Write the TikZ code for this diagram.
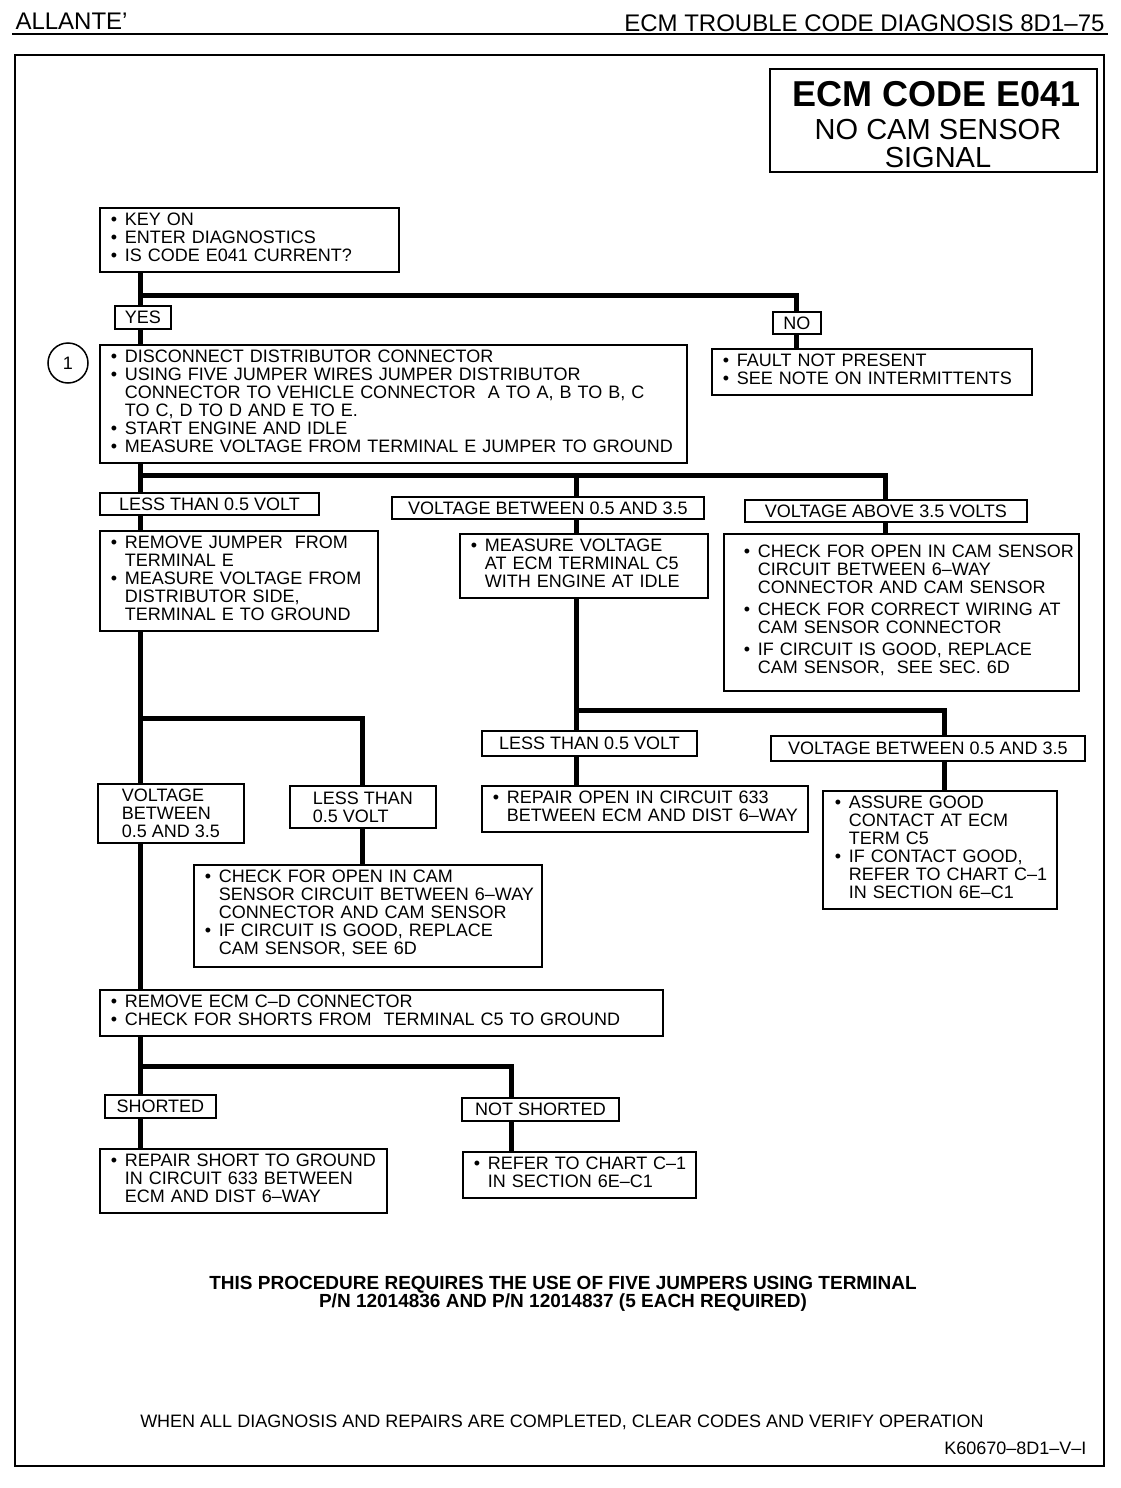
\documentclass[tikz,border=0pt]{standalone}
\usepackage{fontspec}
\setmainfont{Liberation Sans}
\usetikzlibrary{positioning}

\newcommand{\boxfont}{\fontsize{18}{18}\selectfont\hyphenpenalty=10000\exhyphenpenalty=10000}
\newcommand{\bul}{\par\noindent\global\hangindent=14pt\global\hangafter=1\global\rightskip=-24pt plus 1fil\makebox[14pt][l]{\textbullet}}

\tikzset{
  stepbox/.style={draw, line width=1.8pt, anchor=north west, align=left,
    inner xsep=11pt, inner ysep=0pt, font=\boxfont,
    execute at end node={\par\kern10pt}},
  answer/.style={draw, line width=1.8pt, anchor=north west, align=left,
    inner sep=0pt, font=\boxfont},
  flow/.style={line width=5pt},
}

\begin{document}
\begin{tikzpicture}[x=1pt,y=-1pt]
  \useasboundingbox (0,0) rectangle (1120,1488);
  % page header and frame
  \node[anchor=base west, font=\fontsize{24}{24}\selectfont] (make) at (12,30) {ALLANTE'};
  \node[anchor=base east, font=\fontsize{24}{24}\selectfont] (section) at (1108,32) {ECM TROUBLE CODE DIAGNOSIS 8D1--75};
  \draw[line width=2pt] (12,34) -- (1108,34);
  \draw[line width=2pt] (15,55) rectangle (1104,1466);
  % title
  \node[draw, line width=1.8pt, anchor=north west, minimum width=327pt, minimum height=103pt] (titlebox) at (769,68) {};
  \node[anchor=base, font=\fontsize{36}{36}\selectfont\bfseries] (code) at (937,106) {ECM CODE E041};
  \node[anchor=base, font=\fontsize{29}{29}\selectfont] (name1) at (938,139) {NO CAM SENSOR};
  \node[anchor=base, font=\fontsize{29}{29}\selectfont] (name2) at (938,167) {SIGNAL};
  % steps
  \node[stepbox, text width=277pt, minimum height=61pt] (start) at (99,207)
    {\bul KEY ON \bul ENTER DIAGNOSTICS \bul IS CODE E041 CURRENT?};
  \node[answer, minimum width=56pt, minimum height=23pt] (yes) at (114,305) {YES};
  \node[answer, minimum width=48pt, minimum height=22pt] (no) at (772,311) {NO};
  \node[stepbox, text width=298pt, minimum height=41pt] (fault) at (711,348)
    {\bul FAULT NOT PRESENT \bul SEE NOTE ON INTERMITTENTS};
  \node[draw, circle, line width=1.5pt, minimum size=40pt, inner sep=0pt, font=\boxfont] (one) at (68,363) {1};
  \node[stepbox, text width=565pt, minimum height=117pt] (jumper) at (99,344)
    {\bul DISCONNECT DISTRIBUTOR CONNECTOR
     \bul USING FIVE JUMPER WIRES JUMPER DISTRIBUTOR\newline CONNECTOR TO VEHICLE CONNECTOR\ \ A TO A, B TO B, C\newline TO C, D TO D AND E TO E.
     \bul START ENGINE AND IDLE
     \bul MEASURE VOLTAGE FROM TERMINAL E JUMPER TO GROUND};
  \node[answer, minimum width=219pt, minimum height=22pt] (less1) at (99,492) {LESS THAN 0.5 VOLT};
  \node[answer, minimum width=312pt, minimum height=22pt] (mid1) at (391,496) {VOLTAGE BETWEEN 0.5 AND 3.5};
  \node[answer, minimum width=282pt, minimum height=22pt] (above) at (744,499) {VOLTAGE ABOVE 3.5 VOLTS};
  \node[stepbox, text width=256pt, minimum height=98pt] (rj) at (99,530)
    {\bul REMOVE JUMPER\ \ FROM\newline TERMINAL E
     \bul MEASURE VOLTAGE FROM\newline DISTRIBUTOR SIDE,\newline TERMINAL E TO GROUND};
  \node[stepbox, text width=226pt, minimum height=59pt] (mv) at (459,533)
    {\bul MEASURE VOLTAGE\newline AT ECM TERMINAL C5\newline WITH ENGINE AT IDLE};
  \node[stepbox, text width=315pt, minimum height=157pt, inner xsep=20pt] (chk) at (723,533)
    {\bul CHECK FOR OPEN IN CAM SENSOR\newline CIRCUIT BETWEEN 6--WAY\newline CONNECTOR AND CAM SENSOR
     \par\vspace{4pt}\bul CHECK FOR CORRECT WIRING AT\newline CAM SENSOR CONNECTOR
     \par\vspace{4pt}\bul IF CIRCUIT IS GOOD, REPLACE\newline CAM SENSOR,\ \ SEE SEC. 6D};
  \node[answer, minimum width=146pt, minimum height=59pt] (vb) at (97,783) {VOLTAGE\\BETWEEN\\0.5 AND 3.5};
  \node[answer, minimum width=146pt, minimum height=42pt] (lt2) at (289,785) {LESS THAN\\0.5 VOLT};
  \node[stepbox, text width=326pt, minimum height=93pt] (co) at (193,864)
    {\bul CHECK FOR OPEN IN CAM\newline SENSOR CIRCUIT BETWEEN 6--WAY\newline CONNECTOR AND CAM SENSOR
     \bul IF CIRCUIT IS GOOD, REPLACE\newline CAM SENSOR, SEE 6D};
  \node[answer, minimum width=215pt, minimum height=25pt] (lt3) at (481,730) {LESS THAN 0.5 VOLT};
  \node[answer, minimum width=314pt, minimum height=25pt] (vb2) at (770,735) {VOLTAGE BETWEEN 0.5 AND 3.5};
  \node[stepbox, text width=304pt, minimum height=42pt] (ro) at (481,785)
    {\bul REPAIR OPEN IN CIRCUIT 633\newline BETWEEN ECM AND DIST 6--WAY};
  \node[stepbox, text width=210pt, minimum height=114pt, inner xsep=12pt] (ag) at (822,790)
    {\bul ASSURE GOOD\newline CONTACT AT ECM\newline TERM C5
     \bul IF CONTACT GOOD,\newline REFER TO CHART C--1\newline IN SECTION 6E--C1};
  \node[stepbox, text width=541pt, minimum height=42pt] (ecm) at (99,989)
    {\bul REMOVE ECM C--D CONNECTOR
     \bul CHECK FOR SHORTS FROM\ \ TERMINAL C5 TO GROUND};
  \node[answer, minimum width=111pt, minimum height=23pt] (shorted) at (104,1094) {SHORTED};
  \node[answer, minimum width=157pt, minimum height=23pt] (notsh) at (461,1097) {NOT SHORTED};
  \node[stepbox, text width=265pt, minimum height=59pt] (rs) at (99,1148)
    {\bul REPAIR SHORT TO GROUND\newline IN CIRCUIT 633 BETWEEN\newline ECM AND DIST 6--WAY};
  \node[stepbox, text width=211pt, minimum height=41pt] (rc) at (462,1151)
    {\bul REFER TO CHART C--1\newline IN SECTION 6E--C1};
  % branch points
  \coordinate (f1) at (140,295);
  \coordinate (f2) at (140,475);
  \coordinate (tB) at (576,475);
  \coordinate (f3) at (140,718);
  \coordinate (f4) at (576,710);
  \coordinate (f4b) at (944,710);
  \coordinate (f5) at (140,1066);
  \coordinate (f5b) at (511,1066);
  % connectors
  \draw[flow] (start.south -| f1) -- (yes.north -| f1);
  \draw[flow] (f1) -| (no.north);
  \draw[flow] (yes.south -| f1) -- (jumper.north -| f1);
  \draw[flow] (no.south) -- (fault.north -| no.south);
  \draw[flow] (jumper.south -| f2) -- (less1.north -| f2);
  \draw[flow] (f2) -| (above.north);
  \draw[flow] (tB) -- (mid1.north -| tB);
  \draw[flow] (less1.south -| f2) -- (rj.north -| f2);
  \draw[flow] (mid1.south -| tB) -- (mv.north -| tB);
  \draw[flow] (above.south) -- (chk.north -| above.south);
  \draw[flow] (rj.south -| f3) -- (vb.north -| f3);
  \draw[flow] (f3) -| (lt2.north);
  \draw[flow] (lt2.south) -- (co.north -| lt2.south);
  \draw[flow] (vb.south -| f3) -- (ecm.north -| f3);
  \draw[flow] (mv.south -| f4) -- (lt3.north -| f4);
  \draw[flow] (f4) -- (f4b) -- (vb2.north -| f4b);
  \draw[flow] (lt3.south -| f4) -- (ro.north -| f4);
  \draw[flow] (vb2.south -| f4b) -- (ag.north -| f4b);
  \draw[flow] (ecm.south -| f5) -- (shorted.north -| f5);
  \draw[flow] (f5) -- (f5b) -- (notsh.north -| f5b);
  \draw[flow] (shorted.south -| f5) -- (rs.north -| f5);
  \draw[flow] (notsh.south -| f5b) -- (rc.north -| f5b);
  % notes
  \node[anchor=base, font=\fontsize{19}{19}\selectfont\bfseries] (note1) at (563,1289) {THIS PROCEDURE REQUIRES THE USE OF FIVE JUMPERS USING TERMINAL};
  \node[anchor=base, font=\fontsize{19}{19}\selectfont\bfseries] (note2) at (563,1307) {P/N 12014836 AND P/N 12014837 (5 EACH REQUIRED)};
  \node[anchor=base, font=\fontsize{18}{18}\selectfont] (clear) at (562,1427) {WHEN ALL DIAGNOSIS AND REPAIRS ARE COMPLETED, CLEAR CODES AND VERIFY OPERATION};
  \node[anchor=base east, font=\fontsize{18}{18}\selectfont] (fig) at (1090,1454) {K60670--8D1--V--I};
\end{tikzpicture}
\end{document}
